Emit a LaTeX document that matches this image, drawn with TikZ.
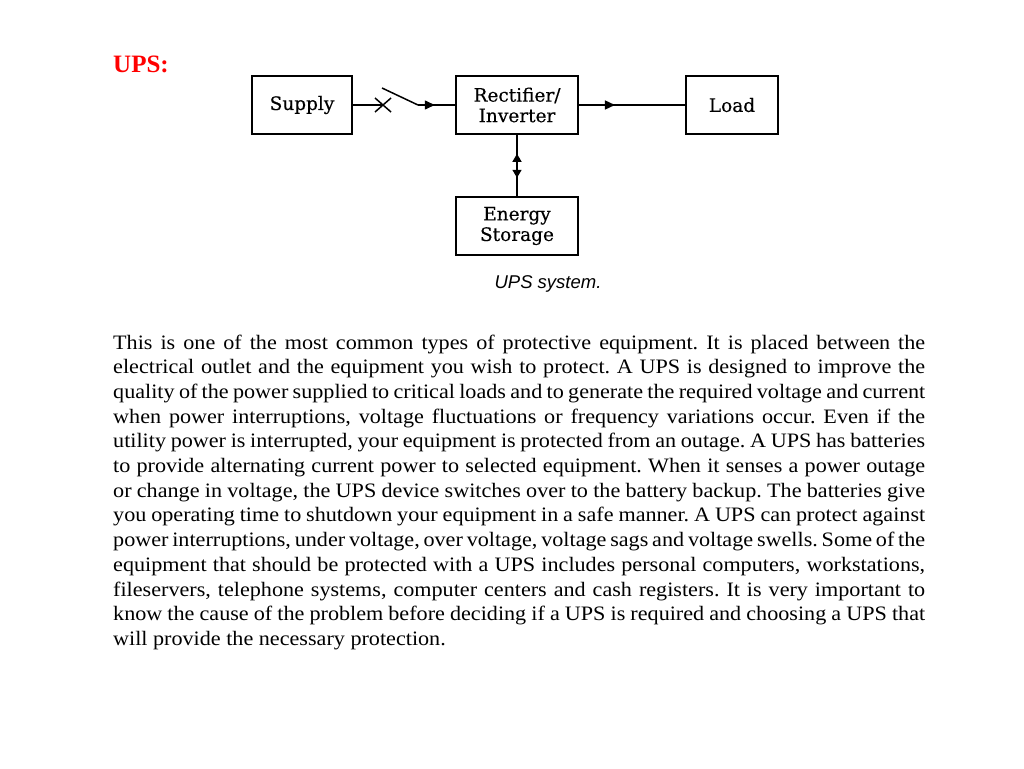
\documentclass[tikz,border=0pt]{standalone}
\usepackage{fontspec}
\setmainfont{Liberation Serif}
\newfontfamily\boxfont[FakeBold=0.4]{DejaVu Serif}
\newfontfamily\capfont{Liberation Sans}
\newfontfamily\bodyfont[FakeStretch=1.08]{Liberation Serif}
\usetikzlibrary{arrows.meta,decorations.markings,calc}
\tikzset{
  blk/.style={draw, line width=1.5pt, rectangle, inner sep=0pt, minimum height=58pt,
     align=center, font=\boxfont\fontsize{18.5}{20.5}\selectfont},
  wire/.style={line width=1.5pt},
  midarrow/.style={wire, postaction={decorate}, decoration={markings,
     mark=at position #1 with {\arrow{Triangle[length=10pt,width=9pt]}}}},
  bodyline/.style={anchor=base west, inner sep=0pt, font=\bodyfont\fontsize{20.5}{24}\selectfont\frenchspacing}
}
\newcommand{\jline}[1]{\makebox[812pt][s]{#1}}
\begin{document}
\begin{tikzpicture}[x=1pt,y=-1pt]
\useasboundingbox (0,0) rectangle (1024,768);
\node[anchor=base west, inner sep=0pt, text=red, font=\bfseries\fontsize{25}{30}\selectfont] (title) at (113,72) {UPS:};

\node[blk, minimum width=100pt] (supply) at (302,105) {Supply};
\node[blk, minimum width=122pt] (conv) at (517,105) {Rectifier/\\Inverter};
\node[blk, minimum width=92pt] (load) at (732,105) {Load};
\node[blk, minimum width=122pt] (store) at (517,226) {Energy\\Storage};
\node[anchor=base, inner sep=0pt, font=\capfont\itshape\fontsize{18.5}{20}\selectfont] (cap) at (548,288) {UPS system.};

% switch
\coordinate (x) at (383,105);
\coordinate (lv) at (382,88);
\coordinate (sw) at (418,105);
\draw[wire] (supply.east) -- (x);
\draw[wire] ($(x)+(-8,-7)$) -- ($(x)+(8,7)$);
\draw[wire] ($(x)+(-8,7)$) -- ($(x)+(8,-7)$);
\draw[wire] (lv) -- (sw);
\draw[midarrow=0.45] (sw) -- (conv.west);
\draw[midarrow=0.34] (conv.east) -- (load.west);
\draw[wire, postaction={decorate}, decoration={markings,
   mark=at position 0.31 with {\arrowreversed{Triangle[length=8pt,width=9pt]}},
   mark=at position 0.70 with {\arrow{Triangle[length=8pt,width=9pt]}}}]
   (conv.south) -- (store.north);

\node[bodyline] (l1) at (113,349) {\jline{This is one of the most common types of protective equipment. It is placed between the}};
\node[bodyline] (l2) at (113,373.7) {\jline{electrical outlet and the equipment you wish to protect. A UPS is designed to improve the}};
\node[bodyline] (l3) at (113,398.4) {\jline{quality of the power supplied to critical loads and to generate the required voltage and current}};
\node[bodyline] (l4) at (113,423.1) {\jline{when power interruptions, voltage fluctuations or frequency variations occur. Even if the}};
\node[bodyline] (l5) at (113,447.8) {\jline{utility power is interrupted, your equipment is protected from an outage. A UPS has batteries}};
\node[bodyline] (l6) at (113,472.5) {\jline{to provide alternating current power to selected equipment. When it senses a power outage}};
\node[bodyline] (l7) at (113,497.2) {\jline{or change in voltage, the UPS device switches over to the battery backup. The batteries give}};
\node[bodyline] (l8) at (113,521.9) {\jline{you operating time to shutdown your equipment in a safe manner. A UPS can protect against}};
\node[bodyline] (l9) at (113,546.6) {\jline{power interruptions, under voltage, over voltage, voltage sags and voltage swells. Some of the}};
\node[bodyline] (l10) at (113,571.3) {\jline{equipment that should be protected with a UPS includes personal computers, workstations,}};
\node[bodyline] (l11) at (113,596) {\jline{fileservers, telephone systems, computer centers and cash registers. It is very important to}};
\node[bodyline] (l12) at (113,620.7) {\jline{know the cause of the problem before deciding if a UPS is required and choosing a UPS that}};
\node[bodyline] (l13) at (113,645.4) {will provide the necessary protection.};
\end{tikzpicture}
\end{document}
